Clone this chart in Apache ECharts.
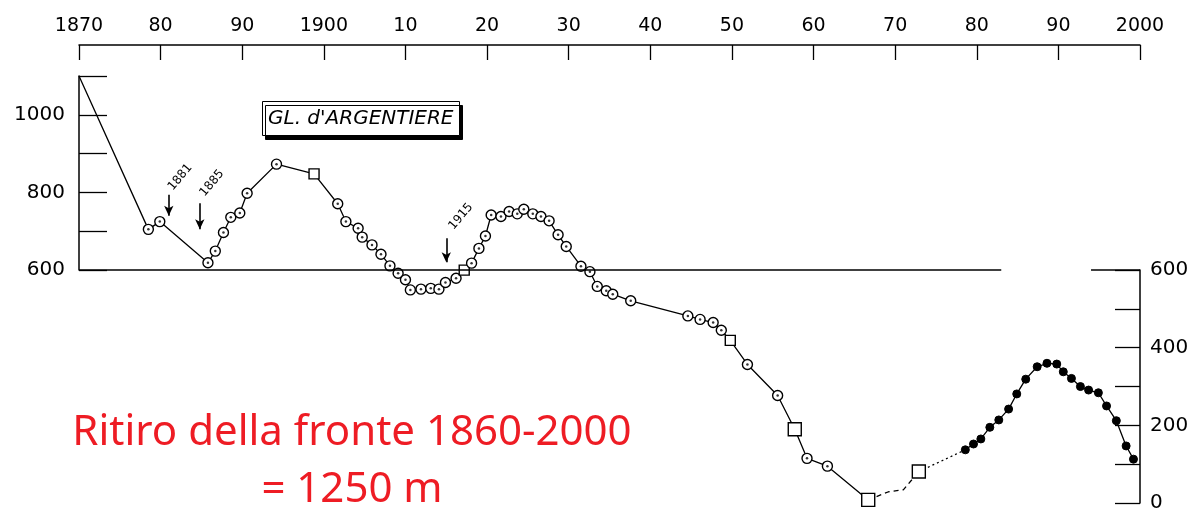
<!DOCTYPE html>
<html><head><meta charset="utf-8">
<script src="https://cdn.jsdelivr.net/npm/echarts@6/dist/echarts.min.js"></script>
<style>html,body{margin:0;padding:0;background:#fff}#c{width:1203px;height:513px}</style>
</head><body><div id="c"></div>
<script>
// ---- data (front position, m) ----
const yearsEarly = [1870.0, 1878.5, 1879.9, 1885.8, 1886.7, 1887.7, 1888.6, 1889.7, 1890.6, 1894.2, 1898.8,
  1901.7, 1902.7, 1904.2, 1904.7, 1905.9, 1907.0, 1908.1, 1909.1, 1910.0, 1910.6, 1911.9, 1913.1, 1914.1,
  1914.9, 1916.2, 1917.2, 1918.1, 1919.0, 1919.8, 1920.5, 1921.7, 1922.7, 1923.7, 1924.5, 1925.6, 1926.6,
  1927.6, 1928.7, 1929.7, 1931.5, 1932.6, 1933.5, 1934.6, 1935.4, 1937.6, 1944.6, 1946.1, 1947.7, 1948.7,
  1949.8, 1951.9, 1955.6, 1957.7, 1959.2, 1961.7, 1966.7];
const valuesEarly = [1100, 705, 725, 619, 649, 697, 736, 747, 798, 873, 848,
  771, 725, 708, 685, 665, 641, 611, 592, 575, 549, 551, 553, 551,
  568, 579, 600, 618, 656, 688, 742, 738, 751, 745, 757, 745, 738,
  727, 691, 661, 610, 596, 558, 547, 538, 521, 482, 473, 465, 445,
  419, 357, 277, 190, 115, 95, 8];
const marksEarly = ['n','o','o','o','o','o','o','o','o','o','s',
  'o','o','o','o','o','o','o','o','o','o','o','o','o',
  'o','o','s','o','o','o','o','o','o','o','o','o','o',
  'o','o','o','o','o','o','o','o','o','o','o','o','o',
  's','o','o','S','o','o','S'];
const yearsGap = [1966.7, 1969.2, 1971.0, 1972.9];
const valuesGap = [8, 29, 34, 81];
const marksGap = ['n','n','n','S'];
const yearsLate = [1978.6, 1979.6, 1980.5, 1981.6, 1982.7, 1983.9, 1984.9, 1986.0, 1987.4, 1988.6,
  1989.8, 1990.6, 1991.6, 1992.7, 1993.7, 1994.9, 1995.9, 1997.1, 1998.3, 1999.2];
const valuesLate = [137, 152, 165, 195, 214, 242, 281, 319, 351, 360,
  358, 338, 321, 300, 291, 284, 250, 212, 147, 113];

// ---- axes / labels ----
const decades = [1870,1880,1890,1900,1910,1920,1930,1940,1950,1960,1970,1980,1990,2000];
const decadeLabels = ['1870','80','90','1900','10','20','30','40','50','60','70','80','90','2000'];
const leftTickLabels = ['600','800','1000'];
const rightTickLabels = ['0','200','400','600'];
const refLevel = 600;
const refSpans = [[1870, 1983], [1994, 2000]];

// ---- annotations ----
const noteTexts = ['1881','1885','1915'];
const noteYears = [1881, 1884.8, 1915];
const noteTop = [794, 772, 682];
const noteBottom = [740, 705, 620];
const noteLabelYears = [1882.4, 1886.3, 1916.8];
const noteLabelValues = [839, 824, 738];
const titleText = "GL. d'ARGENTIERE";
const captionLines = ['Ritiro della fronte 1860-2000', '= 1250 m'];

const sizes = {o: 10, s: 10, S: 13};
function item(x, v, m) {
  if (m === 'n') return {value: [x, v], symbol: 'none', symbolSize: 0};
  if (m === 'o') return {value: [x, v], symbol: 'circle', symbolSize: sizes.o};
  return {value: [x, v], symbol: 'rect', symbolSize: sizes[m]};
}
const earlyData = yearsEarly.map((y, i) => item(y, valuesEarly[i], marksEarly[i]));
const gapData = yearsGap.map((y, i) => item(y, valuesGap[i], marksGap[i]));
const dotData = [];
yearsEarly.forEach((y, i) => { if (marksEarly[i] === 'o') dotData.push([y, valuesEarly[i]]); });
const linkData = [[yearsGap[yearsGap.length-1], valuesGap[valuesGap.length-1]], [yearsLate[0], valuesLate[0]]];
const lateData = yearsLate.map((y, i) => [y, valuesLate[i]]);

const black = '#000';
const openStyle = {color: '#fff', borderColor: black, borderWidth: 1.4};
const hiddenX = g => ({gridIndex: g, type: 'value', min: 1870, max: 2000, show: false,
  axisLine: {show: false}, axisTick: {show: false}, axisLabel: {show: false}, splitLine: {show: false}});

const chart = echarts.init(document.getElementById('c'), null, {renderer: 'canvas'});
chart.setOption({
  animation: false,
  backgroundColor: '#fff',
  title: {
    text: titleText, left: 262, top: 101,
    padding: [8, 6, 7, 6],
    backgroundColor: '#fff', borderColor: black, borderWidth: 1,
    shadowColor: black, shadowBlur: 0, shadowOffsetX: 3, shadowOffsetY: 4,
    textStyle: {fontFamily: 'DejaVu Sans', fontStyle: 'italic', fontWeight: 'normal', fontSize: 20, color: black}
  },
  grid: [
    {left: 79, right: 63, top: 45, bottom: 10},
    {left: 79, right: 63, top: 76, bottom: 243},
    {left: 79, right: 63, top: 270, bottom: 10}
  ],
  xAxis: [
    {gridIndex: 0, type: 'value', position: 'top', min: 1870, max: 2000, interval: 10,
      axisLine: {show: true, onZero: false, lineStyle: {color: black, width: 1.5}},
      axisTick: {show: true, inside: true, length: 15, lineStyle: {color: black, width: 1.3}},
      axisLabel: {margin: 9, fontSize: 19, color: black, fontFamily: 'DejaVu Sans',
        formatter: v => { const k = decades.indexOf(v); return k >= 0 ? decadeLabels[k] : ''; }},
      splitLine: {show: false}},
    hiddenX(1),
    hiddenX(2)
  ],
  yAxis: [
    {gridIndex: 0, type: 'value', min: 0, max: 1180, show: false,
      axisLine: {show: false}, axisTick: {show: false}, axisLabel: {show: false}, splitLine: {show: false}},
    {gridIndex: 1, type: 'value', position: 'left', min: 600, max: 1100, interval: 100,
      axisLine: {show: true, onZero: false, lineStyle: {color: black, width: 1.5}},
      axisTick: {show: true, inside: true, length: 28, lineStyle: {color: black, width: 1.3}},
      axisLabel: {margin: 14, fontSize: 20, color: black, fontFamily: 'DejaVu Sans',
        formatter: v => leftTickLabels.includes(String(v)) ? String(v) : ''},
      splitLine: {show: false}},
    {gridIndex: 2, type: 'value', position: 'right', min: 0, max: 600, interval: 100,
      axisLine: {show: true, onZero: false, lineStyle: {color: black, width: 1.5}},
      axisTick: {show: true, inside: true, length: 25, lineStyle: {color: black, width: 1.3}},
      axisLabel: {margin: 10, fontSize: 20, color: black, fontFamily: 'DejaVu Sans',
        formatter: v => rightTickLabels.includes(String(v)) ? String(v) : ''},
      splitLine: {show: false}}
  ],
  graphic: captionLines.map((t, i) => ({
    type: 'text', z: 100,
    x: 352, y: i === 0 ? 433 : 490,
    style: {text: t, fill: '#EE1C24', fontFamily: 'Noto Sans', fontSize: 42,
      textAlign: 'center', textVerticalAlign: 'middle'}
  })),
  series: [
    { // reference line + arrows
      type: 'line', xAxisIndex: 0, yAxisIndex: 0, data: [], z: 1, symbol: 'none',
      markLine: {
        silent: true, animation: false, label: {show: false},
        lineStyle: {color: black, width: 1.5, type: 'solid'},
        data: refSpans.map(s => [{coord: [s[0], refLevel], symbol: 'none'}, {coord: [s[1], refLevel], symbol: 'none'}])
          .concat(noteYears.map((y, i) => [
            {coord: [y, noteTop[i]], symbol: 'none', lineStyle: {width: 1.6}},
            {coord: [y, noteBottom[i]], symbol: 'arrow', symbolSize: [7, 10]}]))
      },
      markPoint: {
        silent: true, animation: false, symbol: 'circle', symbolSize: 0,
        label: {show: true, position: 'inside', rotate: 50, fontSize: 12, fontFamily: 'DejaVu Sans', color: black,
          formatter: p => p.name},
        data: noteTexts.map((t, i) => ({name: t, coord: [noteLabelYears[i], noteLabelValues[i]]}))
      }
    },
    { // main line 1870-1966
      type: 'line', xAxisIndex: 0, yAxisIndex: 0, data: earlyData, z: 3,
      lineStyle: {color: black, width: 1.3}, itemStyle: openStyle
    },
    { // centre dots of open circles
      type: 'scatter', xAxisIndex: 0, yAxisIndex: 0, data: dotData, z: 4,
      symbol: 'circle', symbolSize: 2.5, itemStyle: {color: black}
    },
    { // broken segment 1966-1973
      type: 'line', xAxisIndex: 0, yAxisIndex: 0, data: gapData, z: 3,
      lineStyle: {color: black, width: 1.3, type: [5, 4]}, itemStyle: openStyle
    },
    { // dotted link 1973-1978
      type: 'line', xAxisIndex: 0, yAxisIndex: 0, data: linkData, z: 2, symbol: 'none',
      lineStyle: {color: black, width: 1.3, type: [2, 3]}
    },
    { // recent measurements
      type: 'line', xAxisIndex: 0, yAxisIndex: 0, data: lateData, z: 3,
      symbol: 'circle', symbolSize: 8,
      lineStyle: {color: black, width: 1.3}, itemStyle: {color: black, borderColor: black}
    }
  ]
});
</script></body></html>
